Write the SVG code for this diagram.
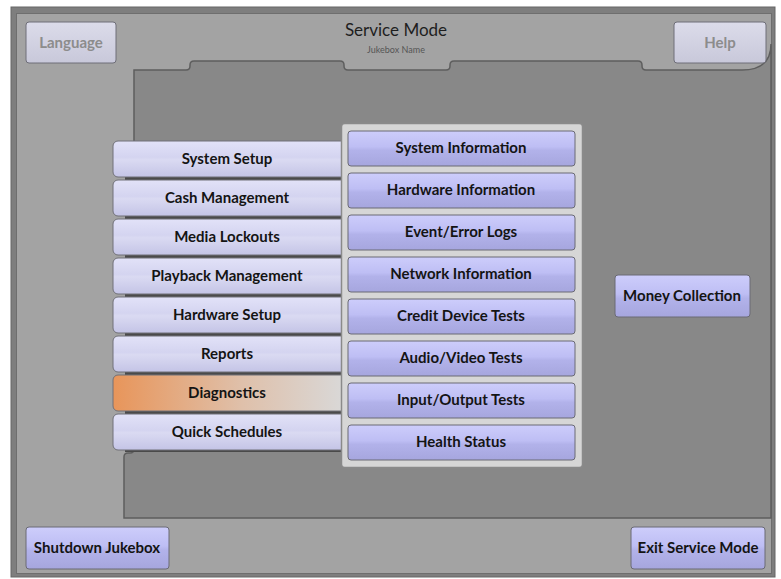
<svg xmlns="http://www.w3.org/2000/svg" width="781" height="579" viewBox="0 0 781 579">
<defs>
<linearGradient id="lav" x1="0" y1="0" x2="0" y2="1">
<stop offset="0" stop-color="#e2e2f8"/>
<stop offset="0.45" stop-color="#d4d4f0"/>
<stop offset="0.52" stop-color="#dadaf2"/>
<stop offset="1" stop-color="#c4c4e6"/>
</linearGradient>
<linearGradient id="blue" x1="0" y1="0" x2="0" y2="1">
<stop offset="0" stop-color="#cdcdfb"/>
<stop offset="0.45" stop-color="#bebef4"/>
<stop offset="0.55" stop-color="#b2b2ea"/>
<stop offset="1" stop-color="#a6a6de"/>
</linearGradient>
<linearGradient id="grayb" x1="0" y1="0" x2="0" y2="1">
<stop offset="0" stop-color="#dcdcea"/>
<stop offset="0.5" stop-color="#d2d2e2"/>
<stop offset="1" stop-color="#c8c8da"/>
</linearGradient>
<linearGradient id="orange" x1="0" y1="0" x2="1" y2="0">
<stop offset="0" stop-color="#e8955a"/>
<stop offset="0.55" stop-color="#dfc0aa"/>
<stop offset="1" stop-color="#d9d9d9"/>
</linearGradient>
<style>
.t{font-family:Lato,"Open Sans","Liberation Sans",sans-serif;font-weight:bold;font-size:15px;fill:#141414;text-anchor:middle}
.g{fill:#8c8c8c}
.lb{stroke:#707078;stroke-width:1}
.bb{fill:url(#blue);stroke:#6a6a74;stroke-width:1}
.sh{fill:#4a4a4a}
</style>
</defs>
<rect x="0" y="0" width="781" height="579" fill="#ffffff"/>
<rect x="11" y="7" width="764" height="570" fill="#7e7e7e" stroke="#666" stroke-width="1"/>
<rect x="16.5" y="13.5" width="755" height="560" fill="#a3a3a3" stroke="#6e6e6e" stroke-width="1"/>
<path d="M134,70 L186,70 Q190,70 190,66 L190,65 Q190,61 194,61 L340,61 Q344,61 344,65 L344,66 Q344,70 348,70 L446,70 Q450,70 450,66 L450,65 Q450,61 454,61 L638,61 Q642,61 642,65 L642,66 Q642,70 646,70 L742,70 Q771,70 771,44 L771,518 L124,518 L124,457 Q124,453 128,453 L130,453 Q134,453 134,449 Z" fill="#888888" stroke="#5e5e5e" stroke-width="1.5"/>
<g id="title">
<text x="396" y="36" font-family="Lato,'Open Sans','Liberation Sans',sans-serif" font-size="17" fill="#1e1e1e" text-anchor="middle">Service Mode</text>
<text x="396" y="53" font-family="Lato,'Open Sans','Liberation Sans',sans-serif" font-size="9" fill="#555" text-anchor="middle">Jukebox Name</text>
</g>
<g id="language"><rect x="26" y="22" width="90" height="41" rx="3" fill="url(#grayb)" stroke="#6e6e78"/><text class="t g" x="71" y="48">Language</text></g>
<g id="help"><rect x="674" y="22" width="92" height="41" rx="3" fill="url(#grayb)" stroke="#6e6e78"/><text class="t g" x="720" y="48">Help</text></g>
<g id="left-menu">
<rect class="sh" x="125" y="177" width="216" height="3"/>
<rect class="sh" x="125" y="216" width="216" height="3"/>
<rect class="sh" x="125" y="255" width="216" height="3"/>
<rect class="sh" x="125" y="294" width="216" height="3"/>
<rect class="sh" x="125" y="333" width="216" height="3"/>
<rect class="sh" x="125" y="372" width="216" height="3"/>
<rect class="sh" x="125" y="411" width="216" height="3"/>
<rect class="sh" x="125" y="450" width="216" height="2"/>
</g>
<g id="system-setup"><rect class="lb" x="113" y="141" width="234" height="36" rx="5" fill="url(#lav)"/><text class="t" x="227" y="164">System Setup</text></g>
<g id="cash-management"><rect class="lb" x="113" y="180" width="234" height="36" rx="5" fill="url(#lav)"/><text class="t" x="227" y="203">Cash Management</text></g>
<g id="media-lockouts"><rect class="lb" x="113" y="219" width="234" height="36" rx="5" fill="url(#lav)"/><text class="t" x="227" y="242">Media Lockouts</text></g>
<g id="playback-management"><rect class="lb" x="113" y="258" width="234" height="36" rx="5" fill="url(#lav)"/><text class="t" x="227" y="281">Playback Management</text></g>
<g id="hardware-setup"><rect class="lb" x="113" y="297" width="234" height="36" rx="5" fill="url(#lav)"/><text class="t" x="227" y="320">Hardware Setup</text></g>
<g id="reports"><rect class="lb" x="113" y="336" width="234" height="36" rx="5" fill="url(#lav)"/><text class="t" x="227" y="359">Reports</text></g>
<g id="diagnostics"><rect class="lb" x="113" y="375" width="234" height="36" rx="5" fill="url(#orange)"/><text class="t" x="227" y="398">Diagnostics</text></g>
<g id="quick-schedules"><rect class="lb" x="113" y="414" width="234" height="36" rx="5" fill="url(#lav)"/><text class="t" x="227" y="437">Quick Schedules</text></g>
<g id="submenu-panel"><rect x="341.5" y="123.5" width="241" height="344" rx="3" fill="#d6d6d6" stroke="#8a8a8a" stroke-width="1.5"/></g>
<g id="system-information"><rect class="bb" x="348" y="131" width="227" height="35" rx="3"/><text class="t" x="461" y="153">System Information</text></g>
<g id="hardware-information"><rect class="bb" x="348" y="173" width="227" height="35" rx="3"/><text class="t" x="461" y="195">Hardware Information</text></g>
<g id="event-error-logs"><rect class="bb" x="348" y="215" width="227" height="35" rx="3"/><text class="t" x="461" y="237">Event/Error Logs</text></g>
<g id="network-information"><rect class="bb" x="348" y="257" width="227" height="35" rx="3"/><text class="t" x="461" y="279">Network Information</text></g>
<g id="credit-device-tests"><rect class="bb" x="348" y="299" width="227" height="35" rx="3"/><text class="t" x="461" y="321">Credit Device Tests</text></g>
<g id="audio-video-tests"><rect class="bb" x="348" y="341" width="227" height="35" rx="3"/><text class="t" x="461" y="363">Audio/Video Tests</text></g>
<g id="input-output-tests"><rect class="bb" x="348" y="383" width="227" height="35" rx="3"/><text class="t" x="461" y="405">Input/Output Tests</text></g>
<g id="health-status"><rect class="bb" x="348" y="425" width="227" height="35" rx="3"/><text class="t" x="461" y="447">Health Status</text></g>
<g id="money-collection"><rect class="bb" x="615" y="275" width="135" height="42" rx="3"/><text class="t" x="682" y="301">Money Collection</text></g>
<g id="shutdown-jukebox"><rect class="bb" x="26" y="527" width="143" height="42" rx="3"/><text class="t" x="97" y="553">Shutdown Jukebox</text></g>
<g id="exit-service-mode"><rect class="bb" x="631" y="527" width="134" height="42" rx="3"/><text class="t" x="698" y="553">Exit Service Mode</text></g>
<g id="connectors"></g>
</svg>
